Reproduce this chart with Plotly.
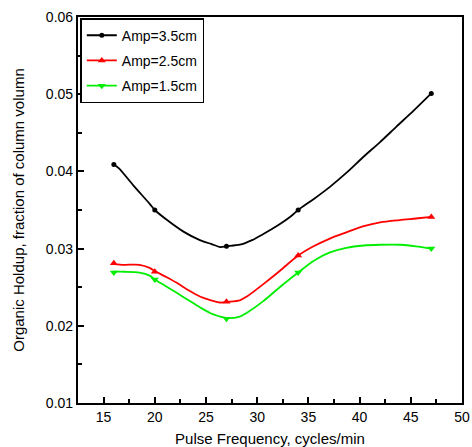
import plotly.graph_objects as go

# Marker (measured) points
freq_pts = [16, 20, 27, 34, 47]
amp35_pts = [0.0409, 0.0350, 0.0303, 0.0350, 0.0501]
amp25_pts = [0.0281, 0.0270, 0.0231, 0.0291, 0.0341]
amp15_pts = [0.0269, 0.0260, 0.0209, 0.0269, 0.0300]

# Smoothed curve points
amp35_cx = [16, 16.5, 17.9, 19.5, 20, 21.2, 22.8, 24.4, 25.5, 26.4, 27, 28.3, 29.5, 30.6, 32, 33.3, 34, 35.5, 37.1, 38.7, 40.3, 42, 43.6, 45.3, 47]
amp35_cy = [0.0409, 0.0404, 0.0382, 0.0358, 0.0350, 0.0337, 0.0322, 0.0311, 0.0306, 0.0302, 0.0303, 0.0305, 0.0311, 0.0319, 0.0330, 0.0342, 0.0350, 0.0364, 0.0380, 0.0398, 0.0418, 0.0438, 0.0458, 0.0479, 0.0501]

amp25_cx = [16, 17, 18.5, 19.5, 20, 21, 22.1, 23.3, 24.4, 25.5, 26.5, 27, 28.3, 29, 30.6, 32.2, 34, 35.5, 37.1, 38.7, 40.4, 42, 43.9, 45.5, 47]
amp25_cy = [0.0280, 0.0279, 0.0279, 0.0275, 0.0271, 0.0264, 0.0256, 0.0246, 0.0238, 0.0233, 0.0230, 0.0231, 0.0233, 0.0238, 0.0254, 0.0271, 0.0291, 0.0303, 0.0313, 0.0321, 0.0329, 0.0334, 0.0337, 0.0339, 0.0341]

amp15_cx = [16, 17, 18.5, 19.5, 20, 21, 22.1, 23.3, 24.4, 25.5, 26.4, 27, 28.3, 29, 30.6, 32.2, 34, 35.5, 37.1, 38.7, 40.4, 42, 44, 45.5, 47]
amp15_cy = [0.0270, 0.0270, 0.0269, 0.0265, 0.0260, 0.0252, 0.0243, 0.0233, 0.0224, 0.0216, 0.0212, 0.0210, 0.0212, 0.0217, 0.0232, 0.0250, 0.0269, 0.0284, 0.0295, 0.0301, 0.0304, 0.0305, 0.0305, 0.0303, 0.0300]

x_ticks = [15, 20, 25, 30, 35, 40, 45, 50]
y_ticks = [0.01, 0.02, 0.03, 0.04, 0.05, 0.06]
y_labels = ["0.01", "0.02", "0.03", "0.04", "0.05", "0.06"]

series = [
    ("Amp=3.5cm", "#000000", "circle", 5, amp35_cx, amp35_cy, amp35_pts),
    ("Amp=2.5cm", "#ff0000", "triangle-up", 7, amp25_cx, amp25_cy, amp25_pts),
    ("Amp=1.5cm", "#00ee00", "triangle-down", 7, amp15_cx, amp15_cy, amp15_pts),
]

FONT = "Liberation Sans, Arial"

fig = go.Figure()
for name, color, sym, ms, cx, cy, py in series:
    fig.add_trace(go.Scatter(x=cx, y=cy, mode="lines", line=dict(color=color, width=1.8, shape="spline", smoothing=0.8),
                             showlegend=False, hoverinfo="skip"))
    fig.add_trace(go.Scatter(x=freq_pts, y=py, mode="markers", marker=dict(color=color, symbol=sym, size=ms),
                             showlegend=False))
    fig.add_trace(go.Scatter(x=[None], y=[None], mode="lines+markers", name=name, legendgroup=name,
                             line=dict(color=color, width=1.8), marker=dict(color=color, symbol=sym, size=ms)))

axis_common = dict(
    showgrid=False, zeroline=False, showline=True, linecolor="black", linewidth=2.2,
    mirror=True, ticks="inside", ticklen=6, tickwidth=1.5, tickcolor="black", automargin=False,
    tickfont=dict(family=FONT, size=14, color="black"),
)

fig.update_layout(
    width=472, height=447,
    margin=dict(l=78, r=10, t=17, b=44),
    paper_bgcolor="white", plot_bgcolor="white",
    font=dict(family=FONT, size=14, color="black"),
    xaxis=dict(range=[12.5, 50], tickvals=x_ticks,
               minor=dict(dtick=2.5, tick0=12.5, ticks="inside", ticklen=4, tickwidth=1.5, tickcolor="black"),
               title=dict(text="Pulse Frequency, cycles/min", font=dict(size=15), standoff=12),
               **axis_common),
    yaxis=dict(range=[0.01, 0.06], tickvals=y_ticks, ticktext=y_labels,
               minor=dict(dtick=0.005, tick0=0.005, ticks="inside", ticklen=4, tickwidth=1.5, tickcolor="black"),
               title=dict(text="Organic Holdup, fraction of column volumn", font=dict(size=15), standoff=18),
               **axis_common),
    xaxis2=dict(overlaying="x", side="top", range=[12.5, 50], tickvals=x_ticks, showticklabels=False,
                showgrid=False, zeroline=False, showline=False, ticks="inside", ticklen=2, tickwidth=1.2,
                tickcolor="black", automargin=False,
                minor=dict(dtick=2.5, tick0=12.5, ticks="inside", ticklen=2, tickwidth=1.2, tickcolor="black")),
    yaxis2=dict(overlaying="y", side="right", range=[0.01, 0.06], tickvals=y_ticks, showticklabels=False,
                showgrid=False, zeroline=False, showline=False, ticks="inside", ticklen=3, tickwidth=1.2,
                tickcolor="black", automargin=False,
                minor=dict(dtick=0.005, tick0=0.005, ticks="inside", ticklen=3, tickwidth=1.2, tickcolor="black")),
    legend=dict(x=0.006, y=0.997, xanchor="left", yanchor="top", bordercolor="black", borderwidth=1.5,
                bgcolor="white", font=dict(size=14), tracegroupgap=4),
)

fig.write_html("out.html")
